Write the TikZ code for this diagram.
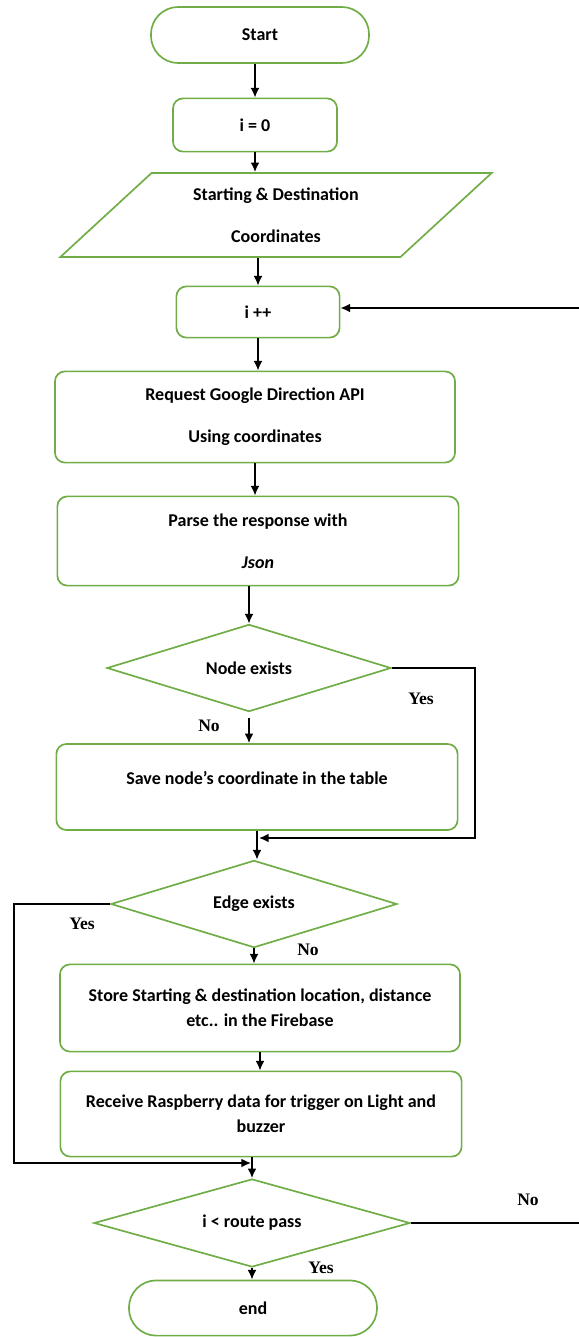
\documentclass[tikz,border=0pt]{standalone}
\usepackage{fontspec}
\setmainfont{Carlito}
\newfontfamily\labelfont{Liberation Serif}
\usepackage{tikz}
\usetikzlibrary{arrows.meta,positioning,shapes.geometric}
\definecolor{boxgreen}{RGB}{112,173,71}
\tikzset{
	blk/.style={draw=boxgreen, line width=1.2pt, align=center,
		font=\fontsize{12.8}{18}\selectfont\bfseries, inner sep=2pt},
	term/.style={blk, rounded corners=0.68cm},
	proc/.style={blk, rounded corners=0.25cm},
	io/.style={blk, trapezium, trapezium left angle=44, trapezium right angle=136,
		trapezium stretches=true},
	dec/.style={blk, diamond, inner sep=0pt},
	lbl/.style={font=\labelfont\fontsize{12.5}{15}\selectfont\bfseries, inner sep=1pt},
	flow/.style={line width=1.1pt, ->},
}

\begin{document}
\begin{tikzpicture}[x=0.025cm, y=-0.025cm, >={Latex[length=2.4mm, width=2.2mm]}]
				\useasboundingbox (0,0) rectangle (579,1337);
				% main column
				\node[term, minimum width=5.45cm, minimum height=1.4cm] at (260,35) (start) {Start};
				\node[proc, minimum width=4.1cm, minimum height=1.33cm] at (255,125) (init) {i = 0};
				\node[io, minimum width=10.8cm, minimum height=2.1cm] at (276,215) (coords) {Starting \& Destination\\[12pt]Coordinates};
				\node[proc, minimum width=4.08cm, minimum height=1.28cm] at (258,312) (incr) {i ++};
				\node[proc, minimum width=10cm, minimum height=2.28cm] at (255,417) (req) {Request Google Direction API\\[12pt]Using coordinates};
				\node[proc, minimum width=10.03cm, minimum height=2.23cm] at (258,541) (parse) {Parse the response with\\[12pt]\textit{Json}};
				\node[dec, aspect=3.26, minimum width=7.1cm, minimum height=2.18cm] at (249,668) (nodeq) {Node exists};
				\node[proc, minimum width=10.03cm, minimum height=2.15cm] at (257,787) (save) {Save node’s coordinate in the table\\[-5pt]\mbox{}};
				\node[dec, aspect=3.29, minimum width=7.15cm, minimum height=2.18cm] at (254,904) (edgeq) {Edge exists};
				\node[proc, minimum width=10cm, minimum height=2.18cm] at (260,1008) (store) {Store Starting \& destination location, distance\\etc.. in the Firebase};
				\node[proc, minimum width=10.03cm, minimum height=2.13cm] at (261,1114) (recv) {Receive Raspberry data for trigger on Light and\\buzzer};
				\node[dec, aspect=3.59, minimum width=7.9cm, minimum height=2.2cm] at (252,1223) (routeq) {i < route pass};
				\node[term, minimum width=6.2cm, minimum height=1.38cm] at (253,1308) (stop) {end};
				% free ends and joins
				\coordinate (loopR) at (579,308);
				\coordinate (noR) at (579,1223);
				\coordinate (join1) at (259,838);
				\coordinate (join2) at (251,1163);
				% branch labels
				\node[lbl] at (421,699) (yes1) {Yes};
				\node[lbl] at (209,726) (no1) {No};
				\node[lbl] at (82,924) (yes2) {Yes};
				\node[lbl] at (308,950) (no2) {No};
				\node[lbl] at (528,1200) (no3) {No};
				\node[lbl] at (321,1268) (yes3) {Yes};
				% connectors
				\draw[flow] (init.north |- start.south) -- (init.north);
				\draw[flow] (init.south) -- (init.south |- coords.north);
				\draw[flow] (incr.north |- coords.south) -- (incr.north);
				\draw[flow] (loopR) -- (loopR -| incr.east);
				\draw[flow] (incr.south) -- (incr.south |- req.north);
				\draw[flow] (req.south) -- (req.south |- parse.north);
				\draw[flow] (nodeq.north |- parse.south) -- (nodeq.north);
				\draw[flow, shorten <=4pt] (nodeq.south) -- (nodeq.south |- save.north);
				\draw[flow] (nodeq.east) -- (475,668) |- (join1);
				\draw[flow] (save.south) -- (save.south |- edgeq.north);
				\draw[flow] (edgeq.south) -- (edgeq.south |- store.north);
				\draw[flow] (edgeq.west) -| (14,1163) -- (join2);
				\draw[flow] (store.south) -- (store.south |- recv.north);
				\draw[flow] (routeq.north |- recv.south) -- (routeq.north);
				\draw[flow] (routeq.south) -- (routeq.south |- stop.north);
				\draw[line width=1.1pt] (routeq.east) -- (noR);
\end{tikzpicture}
\end{document}
